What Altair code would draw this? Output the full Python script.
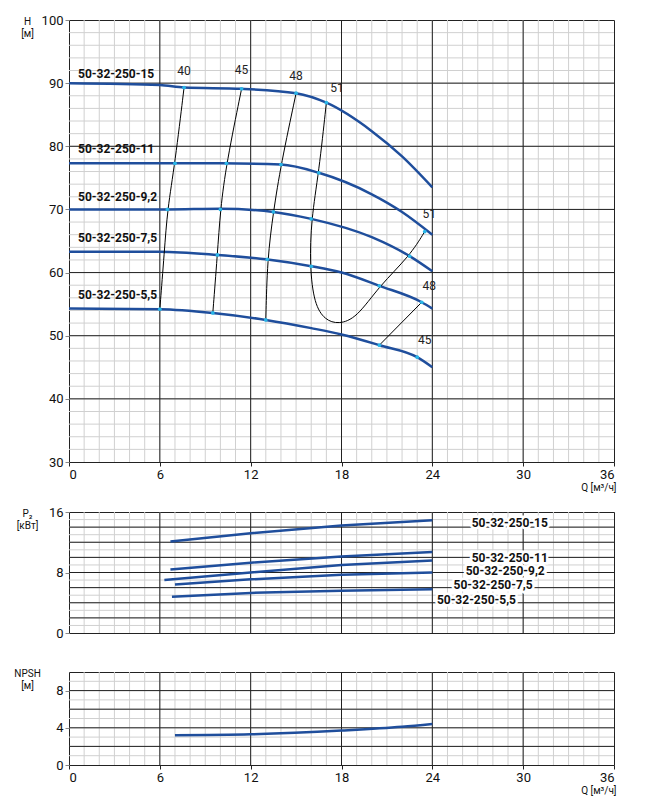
import altair as alt
import pandas as pd

# --- head curves H(Q) ---
q_15 = [0, 6, 7.6, 11.4, 15, 17, 20, 22, 24]
h_15 = [90, 89.7, 89.3, 89.1, 88.4, 86.9, 82.4, 78.4, 73.5]
q_11 = [0, 7, 10, 14, 16.5, 20, 22, 24]
h_11 = [77.3, 77.3, 77.3, 77.1, 75.8, 72.4, 69.6, 66]
q_92 = [0, 6.5, 10, 13.5, 16, 20, 22.5, 24]
h_92 = [70, 70, 70.1, 69.6, 68.5, 65.6, 62.6, 60.2]
q_75 = [0, 6, 9.8, 13, 16, 18, 20.5, 23.3, 24]
h_75 = [63.3, 63.3, 62.8, 62.1, 61, 60, 57.9, 55.3, 54.3]
q_55 = [0, 6, 9.5, 13, 16, 18, 20.5, 23, 24]
h_55 = [54.3, 54.2, 53.6, 52.5, 51.2, 50.2, 48.5, 46.6, 45]
models = ["50-32-250-15", "50-32-250-11", "50-32-250-9,2", "50-32-250-7,5", "50-32-250-5,5"]
label_h = [91.5, 79.5, 72, 65.5, 56.5]

# --- efficiency iso-lines ---
eff_40_q = [6, 6.3, 6.5, 7, 7.6]
eff_40_h = [54.2, 63.3, 70, 77.3, 89.3]
eff_45_q = [9.5, 9.8, 10, 10.4, 11.4]
eff_45_h = [53.6, 62.8, 70, 77.3, 89.1]
eff_48_q = [13, 13.1, 13.5, 14, 15]
eff_48_h = [52.5, 62.1, 69.6, 77.1, 88.4]
eff_51_q = [17, 16.5, 16, 15.9, 16.2, 16.9, 17.8, 19, 20.5, 22.5, 23.5]
eff_51_h = [86.9, 75.8, 68.5, 61, 55, 52.5, 51.8, 52.8, 57.9, 62.6, 66.5]
eff_48b_q = [20.5, 23.3]
eff_48b_h = [48.5, 55.3]
dots_q = [6, 6.5, 7, 7.6, 9.5, 9.8, 10, 10.4, 11.4, 13, 13.1, 13.5, 14, 15,
          16.5, 16, 16, 17, 20.5, 22.5, 23.5, 20.5, 23.3, 23]
dots_h = [54.2, 70, 77.3, 89.3, 53.6, 62.8, 70, 77.3, 89.1, 52.5, 62.1, 69.6, 77.1, 88.4,
          75.8, 68.5, 61, 86.9, 57.9, 62.6, 66.5, 48.5, 55.3, 46.6]
eff_lbl_q = [7.6, 11.4, 15, 17.7, 23.8, 23.8, 23.5]
eff_lbl_h = [90.8, 91, 90, 88.2, 68.2, 56.8, 48.2]
eff_lbl = ["40", "45", "48", "51", "51", "48", "45"]

# --- power P2(Q) ---
p_q = [[6.7, 12, 18, 24], [6.7, 12, 18, 24], [6.3, 12, 18, 24], [7, 12, 18, 24], [6.8, 12, 18, 24]]
p_v = [[12.1, 13.2, 14.2, 14.9], [8.4, 9.3, 10.1, 10.7], [7.0, 8.0, 9.0, 9.6],
       [6.4, 7.1, 7.7, 8.0], [4.8, 5.3, 5.6, 5.8]]
p_lbl_q = [26.6, 26.6, 26.2, 25.4, 24.3]
p_lbl_v = [14.6, 9.9, 8.2, 6.4, 4.4]

# --- NPSH ---
npsh_q = [7, 12, 18, 22, 24]
npsh_v = [3.2, 3.3, 3.7, 4.1, 4.4]

BLUE = "#1f4e9c"
W = 545
xsc = alt.Scale(domain=[0, 36], nice=False)


def grid(ymin, ymax, ystep_minor, ystep_major):
    xs = pd.DataFrame({"x": list(range(1, 36))})
    ys = pd.DataFrame({"y": [ymin + i * ystep_minor for i in range(1, int((ymax - ymin) / ystep_minor))]})
    xmaj = pd.DataFrame({"x": [6, 12, 18, 24, 30]})
    ymaj = pd.DataFrame({"y": [ymin + i * ystep_major for i in range(1, int((ymax - ymin) / ystep_major))]})
    ysc = alt.Scale(domain=[ymin, ymax], nice=False)
    l1 = alt.Chart(xs).mark_rule(color="#d0d0d0", strokeWidth=1).encode(x=alt.X("x:Q", scale=xsc))
    l2 = alt.Chart(ys).mark_rule(color="#d0d0d0", strokeWidth=1).encode(y=alt.Y("y:Q", scale=ysc))
    l3 = alt.Chart(xmaj).mark_rule(color="#222", strokeWidth=1).encode(x=alt.X("x:Q", scale=xsc))
    l4 = alt.Chart(ymaj).mark_rule(color="#222", strokeWidth=1).encode(y=alt.Y("y:Q", scale=ysc))
    return l1 + l2 + l3 + l4


def x_axis(show):
    if show:
        return alt.Axis(values=[0, 6, 12, 18, 24, 30, 36], grid=False, labelFontSize=13,
                        title="Q [м³/ч]", titleFontSize=10, titleFontWeight="normal",
                        titleY=20, titleX=W + 2, titleAlign="right",
                        domain=False, tickColor="#222", tickSize=4)
    return alt.Axis(labels=False, ticks=False, domain=False, grid=False, title=None)


def y_axis(ymin, ymax, ystep, ytitle):
    return alt.Axis(values=[ymin + i * ystep for i in range(int((ymax - ymin) / ystep) + 1)],
                    grid=False, labelFontSize=13, labelOverlap=False, title=ytitle, titleAngle=0,
                    titleFontSize=10, titleFontWeight="normal", titleAlign="center",
                    titleX=-42, titleY=-4, titleBaseline="top", domain=False, tickSize=4)


def line_df(q, v, name):
    return pd.DataFrame({"q": q, "v": v, "s": name})


# ---------- top panel ----------
ysc = alt.Scale(domain=[30, 100], nice=False)
heads = pd.concat([line_df(q, h, m) for q, h, m in
                   zip([q_15, q_11, q_92, q_75, q_55], [h_15, h_11, h_92, h_75, h_55], models)])
effs = pd.concat([line_df(q, h, n) for q, h, n in
                  zip([eff_40_q, eff_45_q, eff_48_q, eff_51_q, eff_48b_q],
                      [eff_40_h, eff_45_h, eff_48_h, eff_51_h, eff_48b_h],
                      ["e40", "e45", "e48", "e51", "e48b"])])
effs["idx"] = effs.groupby("s").cumcount()
base_top = alt.Chart(heads).mark_line(color=BLUE, strokeWidth=2.5, interpolate="monotone").encode(
    x=alt.X("q:Q", scale=xsc, axis=x_axis(True)),
    y=alt.Y("v:Q", scale=ysc, axis=y_axis(30, 100, 10, ["H", "[м]"])), detail="s:N")
eff_layer = alt.Chart(effs).mark_line(color="black", strokeWidth=1, interpolate="basis").encode(
    x=alt.X("q:Q", scale=xsc), y=alt.Y("v:Q", scale=ysc), detail="s:N", order="idx:Q")
dots = alt.Chart(pd.DataFrame({"q": dots_q, "v": dots_h})).mark_point(
    filled=True, color="#29b6e8", size=14, opacity=1).encode(x=alt.X("q:Q", scale=xsc), y=alt.Y("v:Q", scale=ysc))
elbl = alt.Chart(pd.DataFrame({"q": eff_lbl_q, "v": eff_lbl_h, "t": eff_lbl})).mark_text(
    fontSize=12, align="center", baseline="bottom", color="#222").encode(
    x=alt.X("q:Q", scale=xsc), y=alt.Y("v:Q", scale=ysc), text="t:N")
mlbl = alt.Chart(pd.DataFrame({"q": [0.6] * 5, "v": label_h, "t": models})).mark_text(
    fontSize=12, fontWeight="bold", align="left", baseline="middle", color="#111").encode(
    x=alt.X("q:Q", scale=xsc), y=alt.Y("v:Q", scale=ysc), text="t:N")
top = alt.layer(grid(30, 100, 2, 10), base_top, eff_layer, dots, elbl, mlbl).properties(width=W, height=442)

# ---------- power panel ----------
ysc2 = alt.Scale(domain=[0, 16], nice=False)
pw = pd.concat([line_df(q, v, m) for q, v, m in zip(p_q, p_v, models)])
pline = alt.Chart(pw).mark_line(color=BLUE, strokeWidth=2.5).encode(
    x=alt.X("q:Q", scale=xsc, axis=x_axis(False)),
    y=alt.Y("v:Q", scale=ysc2, axis=y_axis(0, 16, 2, ["P₂", "[кВт]"])), detail="s:N")
lbl_df = pd.DataFrame({"q": p_lbl_q, "v": p_lbl_v, "t": models})
plbl_bg = alt.Chart(lbl_df).mark_text(
    fontSize=12, fontWeight="bold", align="left", baseline="middle", color="white",
    stroke="white", strokeWidth=5).encode(x=alt.X("q:Q", scale=xsc), y=alt.Y("v:Q", scale=ysc2), text="t:N")
plbl = alt.Chart(lbl_df).mark_text(
    fontSize=12, fontWeight="bold", align="left", baseline="middle", color="#111").encode(
    x=alt.X("q:Q", scale=xsc), y=alt.Y("v:Q", scale=ysc2), text="t:N")
power = alt.layer(grid(0, 16, 1, 2), pline, plbl_bg, plbl).properties(width=W, height=121)

# ---------- NPSH panel ----------
ysc3 = alt.Scale(domain=[0, 10], nice=False)
nline = alt.Chart(line_df(npsh_q, npsh_v, "n")).mark_line(
    color=BLUE, strokeWidth=2.5, interpolate="monotone").encode(
    x=alt.X("q:Q", scale=xsc, axis=x_axis(True)),
    y=alt.Y("v:Q", scale=ysc3, axis=y_axis(0, 10, 2, ["NPSH", "[м]"])))
npsh = alt.layer(grid(0, 10, 1, 2), nline).properties(width=W, height=93)

chart = alt.vconcat(top, alt.vconcat(power, npsh, spacing=26), spacing=12).configure_view(
    stroke="#222", strokeWidth=1).configure_axis(labelColor="#111", titleColor="#111",
                                                labelFont="Roboto", titleFont="Roboto").configure_text(font="Roboto")
chart.save("out.html", embed_options={"renderer": "svg", "actions": False})
